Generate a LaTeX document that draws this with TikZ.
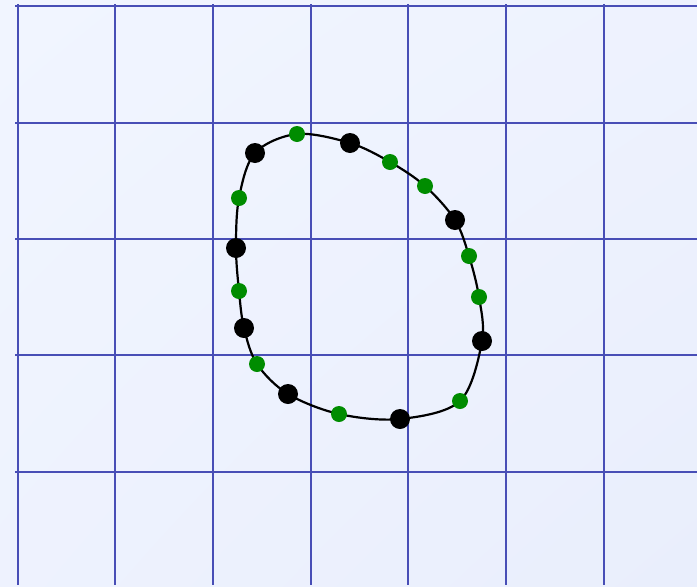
\documentclass[tikz,border=0pt]{standalone}
\definecolor{gridblue}{RGB}{72,78,182}
\definecolor{paperlt}{RGB}{241,245,255}
\definecolor{paperdk}{RGB}{233,238,252}
\definecolor{dotgreen}{RGB}{0,140,0}
\usetikzlibrary{calc,shadings}
\tikzset{
  gridline/.style={gridblue,line width=2.6pt},
  loopline/.style={black,line width=2.2pt},
  knot/.style={circle,fill=black,inner sep=0pt,minimum size=20pt},
  ctrl/.style={circle,fill=dotgreen,inner sep=0pt,minimum size=16pt},
}
\begin{document}
\begin{tikzpicture}[x=1pt,y=-1pt]
    \useasboundingbox (0,0) rectangle (697,587);
    \shade[upper left=paperlt,upper right=paperlt!60!paperdk,
           lower left=paperlt!60!paperdk,lower right=paperdk]
          (0,0) rectangle (697,587);

    % grid
    \foreach \x in {18,115,213,311,408,506,604}{
      \draw[gridline] (\x,4) -- (\x,585);
    }
    \foreach \y in {6,123,239,355,472}{
      \draw[gridline] (15,\y) -- (697,\y);
    }

    % points on the loop
    \foreach \n/\x/\y in {k1/255/153, g1/297/134, k2/350/143, g2/390/162,
                          g3/425/186, k3/455/220, g4/469/256, g5/479/297,
                          k4/482/341, g6/460/401, k5/400/419, g7/339/414,
                          k6/288/394, g8/257/364, k7/244/328, g9/239/291,
                          k8/236/248, g10/239/198}{
      \coordinate (\n) at (\x,\y);
    }

    \draw[loopline] plot[smooth cycle,tension=0.55] coordinates
      {(k1) (g1) (k2) (g2) (g3) (k3) (g4) (g5) (k4) (g6)
       (k5) (g7) (k6) (g8) (k7) (g9) (k8) (g10)};

    \foreach \n in {g1,g2,g3,g4,g5,g6,g7,g8,g9,g10}{
      \node[ctrl] (\n dot) at (\n) {};
    }
    \foreach \n in {k1,k2,k3,k4,k5,k6,k7,k8}{
      \node[knot] (\n dot) at (\n) {};
    }
  \end{tikzpicture}
\end{document}
